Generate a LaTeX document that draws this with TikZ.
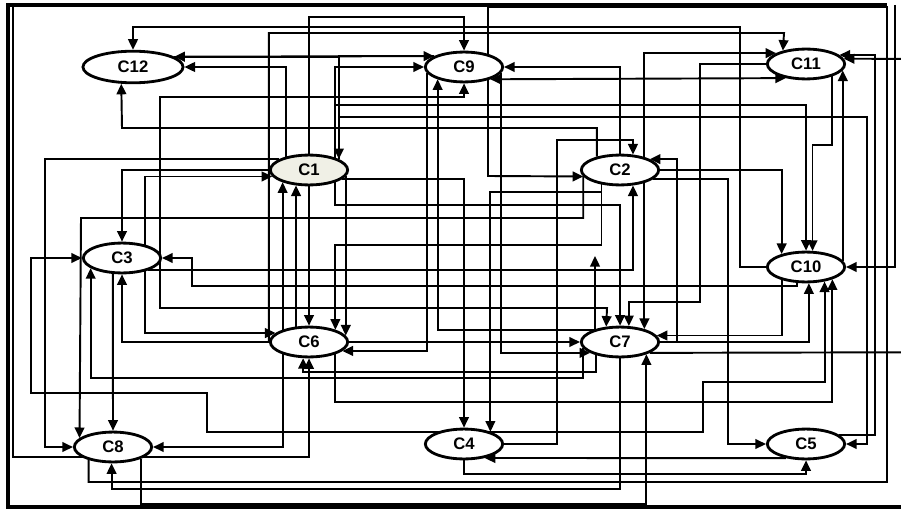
\documentclass[tikz,border=0pt]{standalone}
\usepackage{fontspec}
\setmainfont{Liberation Sans}
\usetikzlibrary{arrows.meta, shapes.geometric, backgrounds}
\definecolor{startfill}{HTML}{F0F0E6}
\tikzset{
  concept/.style={ellipse, draw, line width=1.6pt, fill=white, minimum width=44pt,
                  minimum height=17pt, inner sep=0pt, font=\fontsize{9.5}{11}\selectfont\bfseries},
  link/.style={-{Triangle[length=6pt,width=5.5pt]}, line width=1.1pt},
  twoway/.style={{Triangle[length=6pt,width=5.5pt]}-{Triangle[length=6pt,width=5.5pt]}, line width=1.1pt},
  trunk/.style={line width=1.1pt},
}

\begin{document}
\begin{tikzpicture}[x=0.02cm, y=-0.02cm]
  \useasboundingbox (0,0) rectangle (901,513);

  % concepts, top row
  \node[concept, minimum width=57pt, minimum height=18pt] (C12) at (133,67) {C12};
  \node[concept] (C9)  at (464,67)  {C9};
  \node[concept] (C11) at (806,64)  {C11};
  % second row
  \node[concept, fill=startfill] (C1) at (309,170) {C1};
  \node[concept] (C2)  at (620,170) {C2};
  % third row
  \node[concept] (C3)  at (122,258) {C3};
  \node[concept] (C10) at (806,267) {C10};
  % fourth row
  \node[concept] (C6)  at (309,342) {C6};
  \node[concept] (C7)  at (620,342) {C7};
  % bottom row
  \node[concept] (C8)  at (113,447) {C8};
  \node[concept] (C4)  at (464,444) {C4};
  \node[concept] (C5)  at (806,444) {C5};

  % loose ends at the border
  \coordinate (lefttop)  at (13,7);
  \coordinate (righttop) at (895,5);
  \coordinate (rightout) at (901,352.3);
  \coordinate (rightin)  at (901,58.9);
  \coordinate (dangle)   at (595,256);

  \begin{scope}[on background layer]
  % frame
  \draw[line width=2.8pt] (887,5) -- (8,5) -- (8,507) -- (901,507);

  % links along the top
  \draw[link] (C1.north) |- (464,17) -- (C9.north);
  \draw[link] (C10.west) -| (740,27) -| (C12.north);
  \draw[link] (C6.west) |- (784,33) -- (C11.150);
  \draw[link] (C1.150) |- (C12.east);
  \draw[link] (C2.150) |- (122,128) -- (C12.235);
  \draw[link] (C9.160) -- (C12.14);
  \draw[link] (C12.14) -| (C1.20);
  \draw[link] (C1.20) |- (C9.160);
  \draw[link] (C1.25) |- (C9.west);
  \draw[link] (C1.20) |- (867,117) |- (C5.east);
  \draw[link] (C1.25) |- (700,105) -| (C10.north);
  \draw[twoway] (C9.335) -- (C11.215);
  \draw[link] (C2.north) |- (C9.east);
  \draw[twoway] (C11.160) -| (C7.28);
  \draw[link] (C11.west) -| (700,302) -| (C7.61);

  % links round C1 and C3
  \draw[link] (C1.335) |- (500,205) -| (C7.north);
  \draw[link] (C2.190) |- (81,218) -- (C8.165);
  \draw[link] (C1.160) -| (45,447) -- (C8.west);
  \draw[link] (C1.west) -| (C3.north);
  \draw[twoway] (C1.190) -| (145,300) |- (C6.165);
  \draw[twoway] (C9.south) |- (160,97) |- (607,308) -- (C7.132);
  \draw[link] (C1.345) -| (C4.north);
  \draw[link] (C1.350) -- (C6.10);
  \draw[link] (C1.south) -- (C6.north);
  \draw[link] (C6.155) -- (C1.205);
  \draw[link] (C6.130) -- (C1.230);
  \draw[link] (C3.335) -| (C2.310);
  \draw[link] (C10.240) |- (192,286) |- (C3.east);
  \draw[twoway] (C3.west) -| (31,393) -| (207,432) -| (703,382) -| (C10.322);

  % links round C2 and C10
  \draw[link] (C2.345) -| (728,444) -- (C5.west);
  \draw[link] (C2.218) |- (500,192) -| (C4.25);
  \draw[link] (C2.218) |- (400,245) -| (C6.25);
  \draw[link] (C4.east) -| (557,140) -| (C2.50);
  \draw[link] (C2.east) -| (C10.152);
  \draw[link] (C7.east) -| (677,200) |- (C2.20);
  \draw[link] (C10.208) |- (C7.10);
  \draw[link] (C7.east) -| (C10.280);
  \draw[link] (C6.335) |- (500,402) -| (C10.335);
  \draw[link] (C11.335) |- (820,145) -| (C10.68);
  \draw[link] (C10.10) -- (C11.350);
  \draw[link] (C5.15) -| (875,245) |- (C11.15);
  \draw[link] (righttop) |- (C10.east);
  \draw[link] (rightin) -- (C11.8);
  \draw[trunk] (C7.340) -- (rightout);

  % links round C6 and C7
  \draw[link] (C6.east) -- (C7.west);
  \draw[link] (C9.190) |- (C6.345);
  \draw[link] (C9.350) |- (C7.200);
  \draw[twoway] (C9.205) |- (500,330) -| (dangle);
  \draw[link] (C7.208) |- (450,372) -| (C6.250);
  \draw[link] (C7.190) |- (300,378) -| (C3.198);
  \draw[link] (C6.west) -| (C3.south);
  \draw[link] (C6.205) |- (C8.east);
  \draw[link] (lefttop) |- (200,457) -| (C6.south);

  % links along the bottom
  \draw[link] (C3.240) -- (C8.north);
  \draw[link] (C8.208) |- (500,482) -| (887,7) -| (488,176) -- (C2.190);
  \draw[link] (C4.south) |- (600,474) -| (C5.south);
  \draw[link] (C7.south) |- (300,489) -| (C8.265);
  \draw[link] (C8.337) |- (400,504) -| (C7.335);
  \draw[link] (C5.215) -- (C4.326);
  \end{scope}
\end{tikzpicture}
\end{document}
